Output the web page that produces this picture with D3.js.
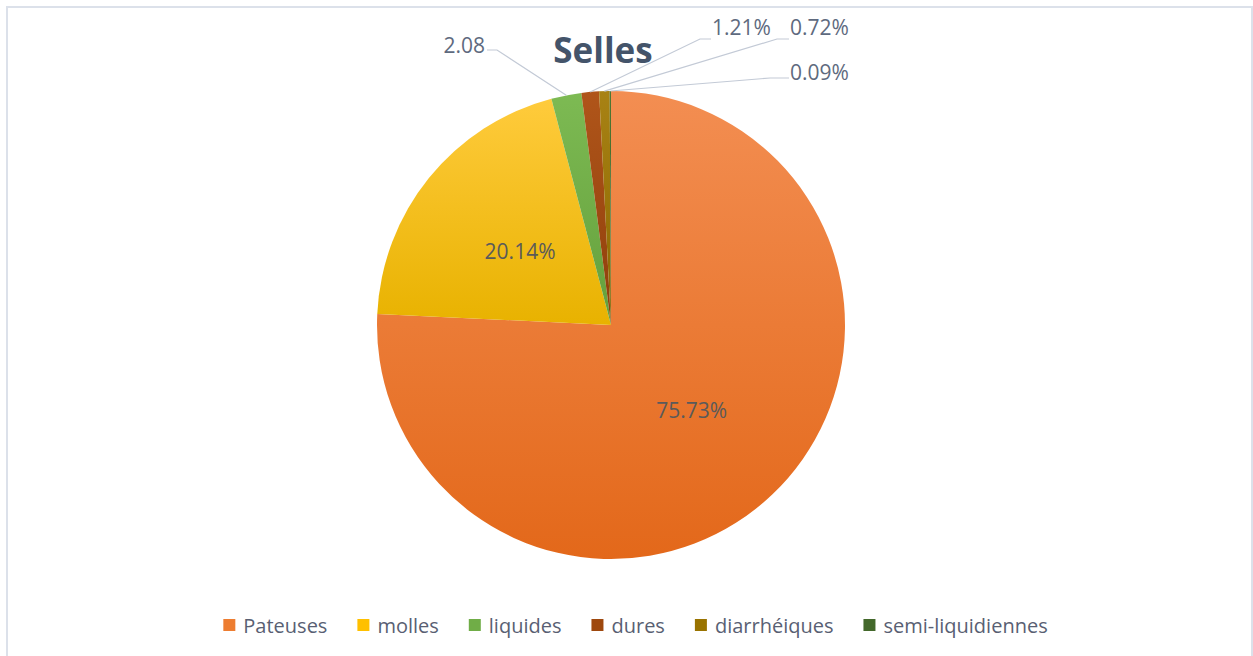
<!DOCTYPE html>
<html>
<head>
<meta charset="utf-8">
<script src="https://cdn.jsdelivr.net/npm/d3@7"></script>
<style>
  html, body { margin: 0; padding: 0; background: #ffffff; }
  svg { display: block; }
</style>
</head>
<body>
<svg id="chart" width="1253" height="656"></svg>
<script>
// Stool consistency breakdown (percent of samples)
const categories = ["Pateuses", "molles", "liquides", "dures", "diarrhéiques", "semi-liquidiennes"];
const values = [75.73, 20.14, 2.08, 1.21, 0.72, 0.09];
const valueLabels = ["75.73%", "20.14%", "2.08", "1.21%", "0.72%", "0.09%"];
const title = "Selles";

// Slice fills: light at top, darker at bottom
const colorsTop = ["#F38E52", "#FFCB3C", "#7DBA53", "#B0551A", "#A88214", "#4D7733"];
const colorsBottom = ["#E3681A", "#E8B200", "#64A03C", "#8E3F0B", "#8A6600", "#3A5C25"];
const legendColors = ["#ED7D31", "#FFC000", "#70AD47", "#9E480E", "#997300", "#43682B"];

const svg = d3.select("#chart");

// Chart area frame
svg.append("rect")
  .attr("x", 7).attr("y", 7)
  .attr("width", 1245).attr("height", 660)
  .attr("fill", "#ffffff")
  .attr("stroke", "#DCE1EA")
  .attr("stroke-width", 2);

const cx = 611, cy = 325, R = 234;

const defs = svg.append("defs");
categories.forEach((c, i) => {
  const g = defs.append("linearGradient")
    .attr("id", "grad" + i)
    .attr("x1", 0).attr("y1", 0).attr("x2", 0).attr("y2", 1);
  g.append("stop").attr("offset", "0%").attr("stop-color", colorsTop[i]);
  g.append("stop").attr("offset", "100%").attr("stop-color", colorsBottom[i]);
});

const pie = d3.pie().sort(null).value(d => d)(values);
const arc = d3.arc().innerRadius(0).outerRadius(R);

const gPie = svg.append("g").attr("transform", `translate(${cx},${cy})`);
gPie.selectAll("path.slice")
  .data(pie)
  .join("path")
  .attr("class", "slice")
  .attr("d", arc)
  .attr("fill", (d, i) => `url(#grad${i})`);

// Inside labels for the two large slices
const labelFont = "'Open Sans', 'DejaVu Sans', sans-serif";
[0, 1].forEach(i => {
  const [x, y] = arc.centroid(pie[i]);
  gPie.append("text")
    .attr("x", x).attr("y", y)
    .attr("text-anchor", "middle")
    .attr("dominant-baseline", "central")
    .attr("font-family", labelFont)
    .attr("font-size", 21)
    .attr("fill", "#5A5A5A")
    .text(valueLabels[i]);
});

// Callout labels for the thin slices: text anchor, side, elbow
const callouts = [
  { i: 2, tx: 485, ty: 45, anchor: "end",   lineY: 50, elbowX: 497 },
  { i: 3, tx: 712, ty: 27, anchor: "start", lineY: 39, elbowX: 700 },
  { i: 4, tx: 790, ty: 27, anchor: "start", lineY: 39, elbowX: 777 },
  { i: 5, tx: 790, ty: 72, anchor: "start", lineY: 78, elbowX: 770 }
];

const gCall = svg.append("g");
callouts.forEach(c => {
  const d = pie[c.i];
  const mid = (d.startAngle + d.endAngle) / 2;
  const px = cx + R * Math.sin(mid);
  const py = cy - R * Math.cos(mid);
  const endX = c.anchor === "end" ? c.tx + 2 : c.tx - 1;
  gCall.append("polyline")
    .attr("points", `${px},${py} ${c.elbowX},${c.lineY} ${endX},${c.lineY}`)
    .attr("fill", "none")
    .attr("stroke", "#C3CAD6")
    .attr("stroke-width", 1.2);
  gCall.append("text")
    .attr("x", c.tx).attr("y", c.ty)
    .attr("text-anchor", c.anchor)
    .attr("dominant-baseline", "central")
    .attr("font-family", labelFont)
    .attr("font-size", 21)
    .attr("fill", "#5E6A7E")
    .text(valueLabels[c.i]);
});

// Title
svg.append("text")
  .attr("x", 603).attr("y", 63)
  .attr("text-anchor", "middle")
  .attr("font-family", labelFont)
  .attr("font-weight", "bold")
  .attr("font-size", 35)
  .attr("fill", "#44546A")
  .text(title);

// Legend, laid out in one centered row
const legend = svg.append("g");
const items = legend.selectAll("g.item")
  .data(categories)
  .join("g")
  .attr("class", "item");
items.append("rect")
  .attr("width", 12).attr("height", 12)
  .attr("y", -6)
  .attr("fill", (d, i) => legendColors[i]);
items.append("text")
  .attr("x", 20)
  .attr("y", 0)
  .attr("dominant-baseline", "central")
  .attr("font-family", labelFont)
  .attr("font-size", 20)
  .attr("fill", "#595F73")
  .text(d => d);

let xPos = 0;
const gap = 30;
items.each(function () {
  const t = d3.select(this).select("text").node().getComputedTextLength();
  d3.select(this).attr("transform", `translate(${xPos},0)`);
  xPos += 20 + t + gap;
});
const totalW = xPos - gap;
legend.attr("transform", `translate(${(219 + 1052) / 2 - totalW / 2},625)`);
</script>
</body>
</html>
